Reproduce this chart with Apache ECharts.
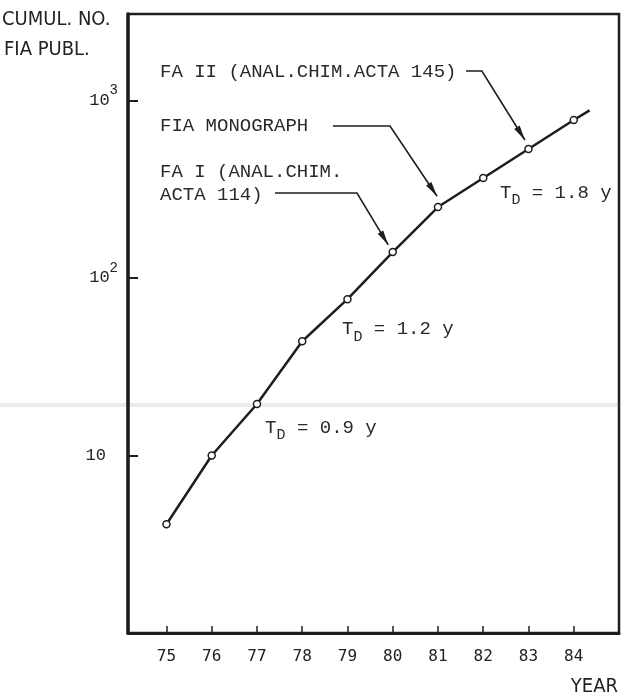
<!DOCTYPE html>
<html><head><meta charset="utf-8">
<script src="https://cdn.jsdelivr.net/npm/echarts@6/dist/echarts.min.js"></script>
<style>html,body{margin:0;padding:0;background:#fff}#c{width:621px;height:697px}</style>
</head><body><div id="c"></div>
<script>
// ---- data ----
const years = [75, 76, 77, 78, 79, 80, 81, 82, 83, 84];
const cumulPubl = [4.1, 10, 19.5, 44, 76, 140, 251, 366, 533, 776];
const curveEnd = [84.35, 880];          // where the drawn curve stops past 1984
const yTickValues = [10, 100, 1000];
const xTickLabels = ['75','76','77','78','79','80','81','82','83','84'];

// annotations, in data units (year, count)
const noteLines = [
  ['FA II (ANAL.CHIM.ACTA 145)'],
  ['FIA MONOGRAPH'],
  ['FA I (ANAL.CHIM.', 'ACTA 114)']
];
const noteAnchors = [[74.857, 1447], [74.857, 718], [74.857, 395]];
const notePaths = [
  [[81.62, 1466], [81.97, 1466], [82.92, 599]],
  [[78.68, 718], [79.94, 718], [80.98, 289]],
  [[77.40, 301], [79.21, 301], [79.90, 153.5]]
];
const doublingTimes = ['1.8', '1.2', '0.9'];
const doublingAnchors = [[82.37, 317], [78.88, 53.7], [77.18, 15.0]];

// ---- chart ----
const INK = '#1e1e1e';
const MONO = '"Liberation Mono", "DejaVu Sans Mono", monospace';
const chart = echarts.init(document.getElementById('c'), null, {renderer: 'canvas'});

const lineData = years.map((y, i) => [y, cumulPubl[i]]);
lineData.push({value: curveEnd, symbol: 'none'});

chart.setOption({
  animation: false,
  backgroundColor: '#fff',
  grid: {left: 128, right: 2, top: 14, bottom: 64, show: true,
         borderColor: INK, borderWidth: 2.5, backgroundColor: 'transparent'},
  xAxis: {
    type: 'value', min: 74.15, max: 85,
    splitLine: {show: false},
    axisLine: {onZero: false, lineStyle: {color: INK, width: 3}},
    axisTick: {inside: true, length: 7, customValues: years, lineStyle: {color: INK, width: 1.5}},
    axisLabel: {customValues: years, margin: 16, fontFamily: '"DejaVu Sans Mono", monospace',
                fontSize: 16, color: '#222',
                formatter: v => xTickLabels[years.indexOf(Math.round(v))] || ''}
  },
  yAxis: {
    type: 'log', logBase: 10, min: 1, max: 3071,
    splitLine: {show: false}, minorTick: {show: false},
    axisLine: {lineStyle: {color: INK, width: 3.5}},
    axisTick: {inside: true, length: 10, customValues: yTickValues, lineStyle: {color: INK, width: 2}},
    axisLabel: {
      customValues: yTickValues, margin: 10, color: '#222',
      formatter: v => {
        const e = Math.round(Math.log10(v));
        return e === 1 ? '{b|10}{p|}' : '{b|10}{s|' + e + '}';
      },
      rich: {
        b: {fontFamily: MONO, fontSize: 17, lineHeight: 34, color: '#222'},
        s: {fontFamily: MONO, fontSize: 14, lineHeight: 12, verticalAlign: 'top', color: '#222'},
        p: {width: 12, lineHeight: 34}
      }
    }
  },
  series: [{
    type: 'line', data: lineData, smooth: false,
    symbol: 'circle', symbolSize: 7,
    itemStyle: {color: '#fff', borderColor: INK, borderWidth: 1.5},
    lineStyle: {color: INK, width: 2.5, join: 'round'},
    z: 3
  }]
});

// ---- annotations placed through the axes ----
const px = p => chart.convertToPixel({gridIndex: 0}, p);
const graphics = [];

// scanner streak
graphics.push({type: 'rect', shape: {x: 0, y: 403, width: 621, height: 4},
  style: {fill: 'rgba(110,110,110,0.13)'}, z: 0, silent: true});

// axis titles
graphics.push({type: 'text', x: 2, y: 20, style: {text: 'CUMUL. NO.', font: '20px "DejaVu Sans Condensed", "DejaVu Sans", sans-serif', fill: '#222', verticalAlign: 'middle'}});
graphics.push({type: 'text', x: 4, y: 50, style: {text: 'FIA PUBL.', font: '20px "DejaVu Sans Condensed", "DejaVu Sans", sans-serif', fill: '#222', verticalAlign: 'middle'}});
graphics.push({type: 'text', x: 618, y: 687, style: {text: 'YEAR', font: '20px "DejaVu Sans Condensed", "DejaVu Sans", sans-serif', fill: '#222', align: 'right', verticalAlign: 'middle'}});

noteLines.forEach((lines, i) => {
  const a = px(noteAnchors[i]);
  graphics.push({type: 'text', x: a[0], y: a[1] - 11.5,
    style: {text: lines.join('\n'), font: '19px ' + MONO, fill: '#2a2a2a', lineHeight: 23, verticalAlign: 'top'}});
  const pts = notePaths[i].map(px);
  graphics.push({type: 'polyline', shape: {points: pts}, style: {stroke: INK, lineWidth: 1.6, fill: null}});
  const b = pts[pts.length - 1], c = pts[pts.length - 2];
  const dx = b[0] - c[0], dy = b[1] - c[1], L = Math.hypot(dx, dy), ux = dx / L, uy = dy / L;
  const len = 15, w = 3.2;
  const base = [b[0] - ux * len, b[1] - uy * len];
  graphics.push({type: 'polygon', shape: {points: [b, [base[0] - uy * w, base[1] + ux * w], [base[0] + uy * w, base[1] - ux * w]]},
    style: {fill: INK}});
});

doublingTimes.forEach((t, i) => {
  const a = px(doublingAnchors[i]);
  graphics.push({type: 'text', x: a[0], y: a[1] - 6, style: {
    text: '{t|T}{d|D}{t| = ' + t + ' y}', verticalAlign: 'top',
    rich: {
      t: {fontFamily: MONO, fontSize: 19, lineHeight: 12, verticalAlign: 'top', fill: '#2a2a2a'},
      d: {fontFamily: MONO, fontSize: 15, lineHeight: 34, fill: '#2a2a2a'}
    }
  }});
});

chart.setOption({graphic: graphics});
</script>
</body></html>
